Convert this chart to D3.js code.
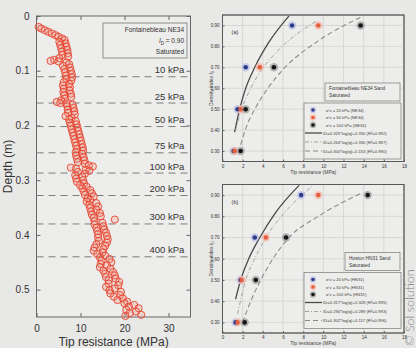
<!DOCTYPE html>
<html>
<head>
<meta charset="utf-8">
<script src="https://cdn.jsdelivr.net/npm/d3@7"></script>
<style>
  body { margin: 0; background: #e8e8e6; }
  svg { display: block; font-family: 'Liberation Sans', Arial, sans-serif; }
  .frame { fill: #ededeb; stroke: #666; stroke-width: 1; }
  .tick text { fill: #333; }
</style>
</head>
<body>
<svg id="chart" width="416" height="348"></svg>
<script>
// ---- left panel: cone profile, Fontainebleau NE34, ID = 0.90
const coneDepth = [
  0.020, 0.023, 0.026, 0.029, 0.032, 0.035, 0.038, 0.041, 0.044, 0.047,
  0.050, 0.053, 0.056, 0.059, 0.062, 0.065, 0.068, 0.071, 0.074, 0.077,
  0.080, 0.082, 0.083, 0.085, 0.088, 0.091, 0.094, 0.097, 0.100, 0.103,
  0.106, 0.109, 0.112, 0.115, 0.118, 0.121, 0.124, 0.127, 0.130, 0.133,
  0.136, 0.139, 0.142, 0.145, 0.148, 0.151, 0.154, 0.157, 0.159, 0.160,
  0.162, 0.165, 0.168, 0.171, 0.174, 0.177, 0.180, 0.183, 0.186, 0.189,
  0.192, 0.195, 0.198, 0.201, 0.204, 0.207, 0.210, 0.213, 0.216, 0.219,
  0.222, 0.225, 0.228, 0.231, 0.234, 0.237, 0.240, 0.243, 0.246, 0.249,
  0.252, 0.255, 0.258, 0.261, 0.264, 0.267, 0.270, 0.273, 0.275, 0.277,
  0.279, 0.281, 0.283, 0.285, 0.288, 0.291, 0.294, 0.297, 0.300, 0.303,
  0.306, 0.309, 0.312, 0.315, 0.318, 0.321, 0.324, 0.327, 0.330, 0.333,
  0.336, 0.339, 0.342, 0.345, 0.348, 0.351, 0.354, 0.357, 0.360, 0.363,
  0.366, 0.369, 0.372, 0.375, 0.378, 0.381, 0.384, 0.387, 0.390, 0.393,
  0.396, 0.399, 0.402, 0.405, 0.408, 0.411, 0.414, 0.417, 0.420, 0.423,
  0.426, 0.429, 0.432, 0.435, 0.438, 0.441, 0.444, 0.447, 0.450, 0.453,
  0.456, 0.459, 0.462, 0.465, 0.468, 0.471, 0.474, 0.477, 0.480, 0.483,
  0.486, 0.489, 0.492, 0.495, 0.498, 0.501, 0.504, 0.507, 0.510, 0.513,
  0.516, 0.519, 0.522, 0.525, 0.528, 0.531, 0.534, 0.537, 0.540, 0.543,
  0.546, 0.548
];
const coneQc = [
  0.5, 1.1, 1.9, 2.7, 3.5, 4.3, 5.0, 5.8, 6.4, 5.2,
  6.6, 5.4, 6.8, 5.6, 7.0, 5.8, 7.1, 5.9, 7.2, 5.2,
  4.0, 3.2, 5.0, 6.8, 7.4, 6.0, 7.6, 6.3, 7.8, 6.5,
  8.0, 6.7, 8.1, 6.8, 7.9, 6.2, 7.4, 6.0, 7.6, 6.2,
  7.5, 6.1, 7.8, 6.3, 7.9, 6.4, 5.6, 4.6, 5.4, 6.8,
  8.2, 7.0, 8.4, 7.1, 8.6, 7.2, 8.7, 6.6, 8.0, 7.4,
  8.9, 7.6, 9.1, 7.8, 9.3, 8.0, 9.5, 8.2, 9.7, 8.4,
  9.9, 8.6, 10.1, 8.8, 10.3, 9.0, 10.5, 9.2, 10.6, 8.9,
  10.4, 9.0, 10.7, 9.2, 10.9, 9.4, 11.0, 11.9, 12.8, 7.8,
  9.0, 11.2, 12.0, 9.4, 11.0, 8.8, 10.4, 9.0, 10.6, 9.2,
  10.8, 9.9, 11.4, 10.4, 12.2, 10.8, 12.6, 11.0, 13.0, 11.6,
  12.2, 11.4, 13.6, 12.0, 14.0, 12.2, 13.6, 12.4, 14.4, 12.6,
  14.6, 13.0, 17.8, 13.2, 15.0, 13.2, 15.2, 13.6, 15.4, 13.8,
  15.8, 14.0, 16.0, 14.0, 16.2, 14.2, 16.0, 13.6, 15.6, 13.2,
  15.2, 13.0, 15.0, 13.8, 15.6, 14.4, 16.6, 14.8, 17.0, 14.6,
  16.0, 14.4, 16.8, 15.2, 17.4, 15.6, 17.8, 15.8, 18.0, 16.4,
  18.8, 16.4, 18.6, 15.8, 17.8, 16.6, 19.2, 16.8, 19.0, 17.6,
  19.6, 18.4, 20.6, 20.0, 22.2, 21.0, 23.2, 20.4, 22.6, 21.2,
  23.8, 20.2
];
const stressLabels = ['10 kPa', '25 kPa', '50 kPa', '75 kPa', '100 kPa', '200 kPa', '300 kPa', '400 kPa'];
const stressDepths = [0.111, 0.159, 0.202, 0.250, 0.287, 0.328, 0.380, 0.440];
const depthTicks = [0, 0.1, 0.2, 0.3, 0.4, 0.5];
const qcTicks = [0, 10, 20, 30];

// ---- right panels: density index against tip resistance
const densityLevels = [0.3, 0.5, 0.7, 0.9];
const stressNames = ['20 kPa', '50 kPa', '100 kPa'];
const ne34Qc20 = [1.1, 1.5, 2.3, 6.9];
const ne34Qc50 = [1.2, 1.8, 3.7, 9.5];
const ne34Qc100 = [1.8, 2.3, 5.1, 13.7];
const hn31Qc20 = [1.3, 1.8, 3.2, 7.8];
const hn31Qc50 = [1.5, 1.9, 4.3, 9.5];
const hn31Qc100 = [2.2, 3.3, 6.3, 14.4];

// fitted curves as (qc, ID) pairs
const ne34Fit20 = [[1.2, 0.39], [1.7, 0.5], [2.3, 0.6], [3.2, 0.7], [4.6, 0.82], [6.6, 0.946]];
const ne34Fit50 = [[1.3, 0.40], [1.9, 0.5], [2.7, 0.59], [3.7, 0.675], [5.5, 0.78], [9.3, 0.92]];
const ne34Fit100 = [[1.8, 0.33], [2.4, 0.42], [3.2, 0.5], [4.5, 0.6], [6.0, 0.69], [9.0, 0.81], [14.0, 0.946]];
const hn31Fit20 = [[1.3, 0.41], [1.8, 0.5], [2.6, 0.6], [3.7, 0.7], [5.3, 0.82], [7.6, 0.946]];
const hn31Fit50 = [[1.5, 0.34], [2.3, 0.5], [3.2, 0.6], [4.3, 0.7], [6.2, 0.82], [9.0, 0.946]];
const hn31Fit100 = [[2.0, 0.30], [2.8, 0.40], [3.8, 0.5], [5.0, 0.6], [6.6, 0.7], [9.5, 0.8], [13.8, 0.91]];
const ne34FitText = ['0.325*log(q)+0.330 (R²=0.992)', '0.264*log(q)+0.330 (R²=0.987)', '0.300*log(q)+0.153 (R²=0.990)'];
const hn31FitText = ['0.317*log(q)+0.328 (R²=0.995)', '0.294*log(q)+0.289 (R²=0.993)', '0.302*log(q)+0.117 (R²=0.996)'];

const markerColors = ['#2f3c8c', '#e2603f', '#151515'];
const markerHalo = ['#b9bde6', '#f7b6a8', '#9a9a9a'];
const lineStyles = [
  { stroke: '#4a4a4a', width: 1.3, dash: null },
  { stroke: '#9a9a9a', width: 0.9, dash: '4,2,1,2' },
  { stroke: '#8a8a8a', width: 1.1, dash: '5,3' },
];

const svg = d3.select('#chart');

function profilePanel() {
  const x = d3.scaleLinear([0, 35], [36.5, 190.5]);
  const y = d3.scaleLinear([0, 0.55], [16, 317]);
  const g = svg.append('g');

  g.append('rect').attr('class', 'frame')
    .attr('x', x(0)).attr('y', y(0))
    .attr('width', x(35) - x(0)).attr('height', y(0.55) - y(0));

  // axes with inward ticks on all four sides
  const axes = [
    [d3.axisBottom(x).tickValues(qcTicks).tickSize(-4).tickPadding(8), `translate(0,${y(0.55)})`, true],
    [d3.axisTop(x).tickValues(qcTicks).tickSize(-4), `translate(0,${y(0)})`, false],
    [d3.axisLeft(y).tickValues(depthTicks).tickSize(-4).tickPadding(7).tickFormat(d3.format('')), `translate(${x(0)},0)`, true],
    [d3.axisRight(y).tickValues(depthTicks).tickSize(-4), `translate(${x(35)},0)`, false],
  ];
  axes.forEach(([axis, tr, labels]) => {
    const a = g.append('g').attr('transform', tr).call(axis);
    a.select('.domain').remove();
    a.selectAll('.tick line').attr('stroke', '#666');
    a.selectAll('.tick text').attr('font-size', 10).attr('fill', '#333');
    if (!labels) a.selectAll('.tick text').remove();
  });

  // stress level lines
  const levels = g.selectAll('g.level')
    .data(stressDepths.map((d, i) => ({ depth: d, label: stressLabels[i] })))
    .join('g').classed('level', true);
  levels.append('line')
    .attr('x1', x(0)).attr('x2', x(35))
    .attr('y1', (d) => y(d.depth)).attr('y2', (d) => y(d.depth))
    .attr('stroke', '#7d7d7d').attr('stroke-width', 1).attr('stroke-dasharray', '7,5');
  levels.append('text')
    .attr('x', x(33.6)).attr('y', (d) => y(d.depth) - 3.5)
    .attr('text-anchor', 'end').attr('font-size', 9.5).attr('fill', '#333')
    .text((d) => d.label);

  g.selectAll('circle.qc')
    .data(coneDepth.map((d, i) => ({ depth: d, qc: coneQc[i] })))
    .join('circle').classed('qc', true)
    .attr('cx', (d) => x(d.qc)).attr('cy', (d) => y(d.depth)).attr('r', 3.6)
    .attr('fill', 'rgba(245,140,120,0.25)').attr('stroke', '#e5432f').attr('stroke-width', 0.9);

  // sample box
  const box = g.append('g');
  box.append('rect').attr('x', 103).attr('y', 23).attr('width', 84).attr('height', 35)
    .attr('fill', '#ededeb').attr('stroke', '#777').attr('stroke-width', 0.8);
  box.append('text').attr('x', 184).attr('y', 32).attr('text-anchor', 'end').attr('font-size', 6.5).attr('fill', '#333')
    .text('Fontainebleau NE34');
  const idText = box.append('text').attr('x', 184).attr('y', 43).attr('text-anchor', 'end').attr('font-size', 6.5).attr('fill', '#333');
  idText.append('tspan').attr('font-style', 'italic').text('I');
  idText.append('tspan').attr('font-size', 4.5).attr('dy', 1.5).text('D');
  idText.append('tspan').attr('dy', -1.5).text(' = 0.90');
  box.append('text').attr('x', 184).attr('y', 54).attr('text-anchor', 'end').attr('font-size', 6.5).attr('fill', '#333')
    .text('Saturated');

  g.append('text').attr('transform', `translate(12,${(y(0) + y(0.55)) / 2}) rotate(-90)`)
    .attr('text-anchor', 'middle').attr('font-size', 12).attr('fill', '#333').text('Depth (m)');
  g.append('text').attr('x', (x(0) + x(35)) / 2).attr('y', 346)
    .attr('text-anchor', 'middle').attr('font-size', 12).attr('fill', '#333').text('Tip resistance (MPa)');
}

function densityPanel(c) {
  const x = d3.scaleLinear([0, 18], [222.5, 404]);
  const y = d3.scaleLinear([0.25, 0.95], [c.bottom, c.top]);
  const g = svg.append('g');

  g.append('rect').attr('class', 'frame')
    .attr('x', x(0)).attr('y', y(0.95))
    .attr('width', x(18) - x(0)).attr('height', y(0.25) - y(0.95));

  // grid
  g.append('g').selectAll('line')
    .data(d3.range(1, 9).map((i) => i * 2))
    .join('line')
    .attr('x1', (d) => x(d)).attr('x2', (d) => x(d))
    .attr('y1', y(0.95)).attr('y2', y(0.25))
    .attr('stroke', '#c9c9c9').attr('stroke-width', 0.6);
  g.append('g').selectAll('line')
    .data(densityLevels.concat([0.4, 0.6, 0.8]))
    .join('line')
    .attr('x1', x(0)).attr('x2', x(18))
    .attr('y1', (d) => y(d)).attr('y2', (d) => y(d))
    .attr('stroke', '#c9c9c9').attr('stroke-width', 0.6);

  const xa = g.append('g').attr('transform', `translate(0,${y(0.25)})`)
    .call(d3.axisBottom(x).tickValues(d3.range(0, 19, 2)).tickSize(-2).tickPadding(3));
  const ya = g.append('g').attr('transform', `translate(${x(0)},0)`)
    .call(d3.axisLeft(y).tickValues([0.3, 0.4, 0.5, 0.6, 0.7, 0.8, 0.9]).tickSize(-2).tickPadding(3).tickFormat(d3.format('.2f')));
  [xa, ya].forEach((a) => {
    a.select('.domain').remove();
    a.selectAll('.tick line').attr('stroke', '#666');
    a.selectAll('.tick text').attr('font-size', 4.5).attr('fill', '#444');
  });
  g.append('rect').attr('x', x(0)).attr('y', y(0.95))
    .attr('width', x(18) - x(0)).attr('height', y(0.25) - y(0.95))
    .attr('fill', 'none').attr('stroke', '#555').attr('stroke-width', 0.8);

  g.append('text').attr('x', x(9)).attr('y', y(0.25) + 12)
    .attr('text-anchor', 'middle').attr('font-size', 5).attr('fill', '#444').text('Tip resistance (MPa)');
  const yl = g.append('text').attr('transform', `translate(213,${(y(0.25) + y(0.95)) / 2}) rotate(-90)`)
    .attr('text-anchor', 'middle').attr('font-size', 5).attr('fill', '#444');
  yl.append('tspan').text('Density index ');
  yl.append('tspan').attr('font-style', 'italic').text('I');
  yl.append('tspan').attr('font-size', 3.5).attr('dy', 1).text('D');

  g.append('text').attr('x', x(0.9)).attr('y', y(0.86))
    .attr('font-size', 5.5).attr('fill', '#333').text(c.tag);

  // fitted curves
  const line = d3.line().x((d) => x(d[0])).y((d) => y(d[1])).curve(d3.curveMonotoneX);
  g.selectAll('path.fit')
    .data(c.fits)
    .join('path').classed('fit', true)
    .attr('d', line)
    .attr('fill', 'none')
    .attr('stroke', (d, i) => lineStyles[i].stroke)
    .attr('stroke-width', (d, i) => lineStyles[i].width)
    .attr('stroke-dasharray', (d, i) => lineStyles[i].dash);

  // measured points
  const pts = [];
  c.series.forEach((s, i) => s.forEach((q, j) => pts.push({ qc: q, id: densityLevels[j], k: i })));
  g.selectAll('circle.halo').data(pts).join('circle').classed('halo', true)
    .attr('cx', (d) => x(d.qc)).attr('cy', (d) => y(d.id)).attr('r', 4.2)
    .attr('fill', (d) => markerHalo[d.k]).attr('opacity', 0.7);
  g.selectAll('circle.pt').data(pts).join('circle').classed('pt', true)
    .attr('cx', (d) => x(d.qc)).attr('cy', (d) => y(d.id)).attr('r', 2.3)
    .attr('fill', (d) => markerColors[d.k]);

  // sample box
  const top = y(0.95);
  g.append('rect').attr('x', c.boxX).attr('y', top + 68).attr('width', 400 - c.boxX).attr('height', 18)
    .attr('fill', '#ededeb').attr('stroke', '#666').attr('stroke-width', 0.6);
  c.sample.forEach((t, i) => {
    g.append('text').attr('x', c.boxX + 4).attr('y', top + 75 + i * 7)
      .attr('font-size', 4.8).attr('fill', '#333').text(t);
  });

  // legend
  const lg = g.append('g').attr('transform', `translate(304,${top + 88})`);
  lg.append('rect').attr('width', 97).attr('height', 56)
    .attr('fill', '#ededeb').attr('stroke', '#666').attr('stroke-width', 0.6);
  stressNames.forEach((s, i) => {
    const yy = 7 + i * 7.5;
    lg.append('circle').attr('cx', 9).attr('cy', yy).attr('r', 3.2).attr('fill', markerHalo[i]).attr('opacity', 0.7);
    lg.append('circle').attr('cx', 9).attr('cy', yy).attr('r', 1.8).attr('fill', markerColors[i]);
    lg.append('text').attr('x', 22).attr('y', yy + 1.5).attr('font-size', 4.2).attr('fill', '#444')
      .text(`σ'v = ${s} (${c.code})`);
  });
  c.fitText.forEach((t, i) => {
    const yy = 30 + i * 9;
    const st = lineStyles[i];
    lg.append('line').attr('x1', 1).attr('x2', 18).attr('y1', yy).attr('y2', yy)
      .attr('stroke', st.stroke).attr('stroke-width', st.width).attr('stroke-dasharray', st.dash);
    lg.append('text').attr('x', 19).attr('y', yy + 1.5).attr('font-size', 4.2).attr('fill', '#444')
      .text(`ID=${t}`);
  });
}

profilePanel();
densityPanel({
  top: 15, bottom: 161.5, tag: '(a)', code: 'NE34', boxX: 325,
  series: [ne34Qc20, ne34Qc50, ne34Qc100],
  fits: [ne34Fit20, ne34Fit50, ne34Fit100],
  fitText: ne34FitText,
  sample: ['Fontainebleau NE34 Sand', 'Saturated'],
});
densityPanel({
  top: 184.5, bottom: 333, tag: '(b)', code: 'HN31', boxX: 345,
  series: [hn31Qc20, hn31Qc50, hn31Qc100],
  fits: [hn31Fit20, hn31Fit50, hn31Fit100],
  fitText: hn31FitText,
  sample: ['Hostun HN31 Sand', 'Saturated'],
});

// watermark, reading upward from the bottom corner
svg.append('text').attr('transform', 'translate(414,346) rotate(-90)')
  .attr('font-family', 'Lato, sans-serif').attr('font-weight', 300)
  .attr('font-size', 12.5).attr('fill', '#808080').text('© Sol solution');
</script>
</body>
</html>
